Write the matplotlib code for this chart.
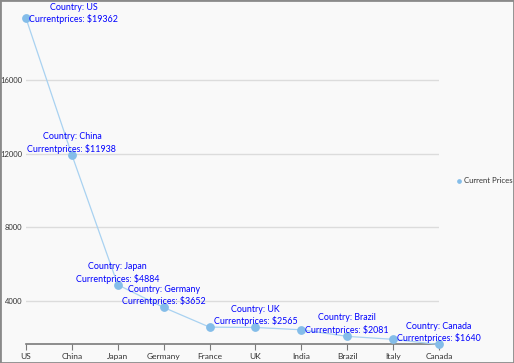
import matplotlib.pyplot as plt
from matplotlib.patches import Rectangle

countries = ['US', 'China', 'Japan', 'Germany', 'France', 'UK', 'India', 'Brazil', 'Italy', 'Canada']
prices = [19362, 11938, 4884, 3652, 2583, 2565, 2439, 2081, 1921, 1640]
labelled = ['US', 'China', 'Japan', 'Germany', 'UK', 'Brazil', 'Canada']
yticks = [4000, 8000, 12000, 16000]

plt.rcParams['font.family'] = ['Lato', 'DejaVu Sans']

fig = plt.figure(figsize=(5.14, 3.63), dpi=100, facecolor='#f9f9f9')
fig.patches.append(Rectangle((0, 0), 1, 1, transform=fig.transFigure, fill=False,
                             edgecolor='#8a8a8a', linewidth=2))
ax = fig.add_axes([0.0506, 0.051, 0.8035, 0.931])
ax.set_facecolor('#f9f9f9')

x = list(range(len(countries)))
ax.plot(x, prices, color='#a9d2f1', linewidth=0.9, zorder=2, clip_on=False)
ax.scatter(x, prices, s=28, color='#84bde9', zorder=3, label='Current Prices', clip_on=False)

for i, (c, p) in enumerate(zip(countries, prices)):
    if c not in labelled:
        continue
    txt = 'Country: %s\nCurrentprices: $%d' % (c, p)
    if i == 0:
        ax.annotate(txt, (i, p), xytext=(2.5, 3.5), textcoords='offset points',
                    ha='left', va='center', multialignment='center',
                    color='#0000ff', fontsize=6.4, linespacing=1.35, zorder=4)
    else:
        ax.annotate(txt, (i, p), xytext=(0, 0.8), textcoords='offset points',
                    ha='center', va='bottom', multialignment='center',
                    color='#0000ff', fontsize=6.4, linespacing=1.35, zorder=4)

ax.set_xlim(0, 9)
ax.set_ylim(1640, 20000)
ax.set_xticks(x)
ax.set_xticklabels(countries)
ax.set_yticks(yticks)
ax.set_yticklabels([str(v) for v in yticks])
ax.grid(axis='y', color='#dcdcdc', linewidth=1)
ax.set_axisbelow(True)

for s in ['top', 'right', 'left']:
    ax.spines[s].set_visible(False)
ax.spines['bottom'].set_color('#7a7a7a')
ax.spines['bottom'].set_linewidth(1.2)
ax.spines['bottom'].set_zorder(1)
ax.tick_params(axis='x', length=4, color='#7a7a7a', labelsize=6.0, pad=2, labelcolor='#333333')
ax.tick_params(axis='y', length=0, labelsize=5.5, pad=2.5, labelcolor='#333333')

fig.legend(loc='center left', bbox_to_anchor=(0.881, 0.504), frameon=False,
           fontsize=5.6, markerscale=0.45, handlelength=0.8, handletextpad=0.2,
           borderaxespad=0, labelcolor='#333333')

plt.savefig('out.png', dpi=100, facecolor=fig.get_facecolor())
